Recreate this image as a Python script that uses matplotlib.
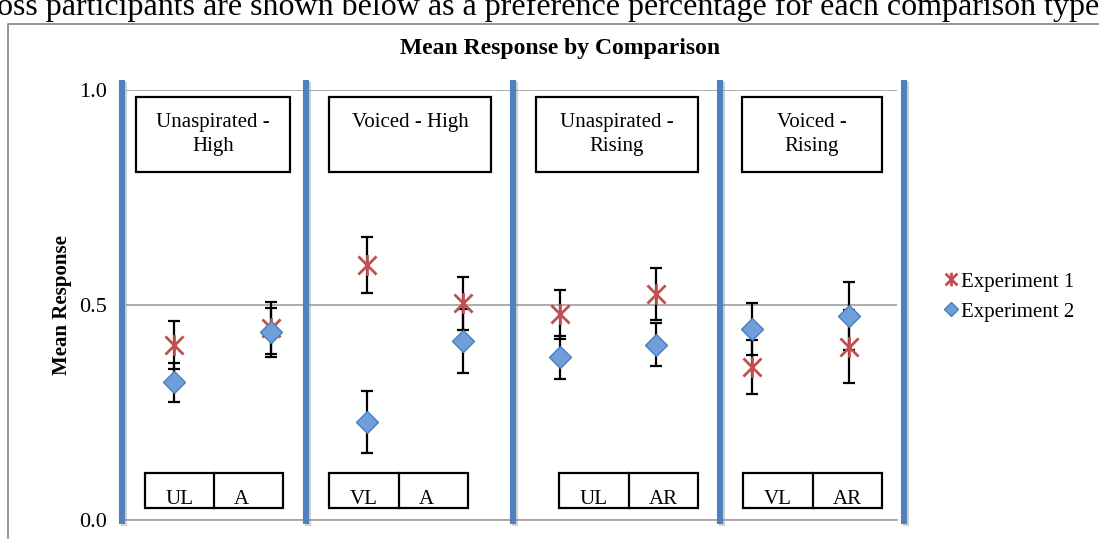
import matplotlib

matplotlib.use("Agg")

import matplotlib.pyplot as plt
import matplotlib.patheffects as pe
from matplotlib.lines import Line2D
from matplotlib.patches import Rectangle
from matplotlib.path import Path
import numpy as np

plt.rcParams["font.family"] = ["Liberation Serif", "DejaVu Serif"]

W, H = 1099, 539

# data
categories = ["UL", "A", "VL", "A", "UL", "AR", "VL", "AR"]
exp1_mean = [0.407, 0.447, 0.593, 0.504, 0.479, 0.526, 0.355, 0.403]
exp1_err = [0.055, 0.061, 0.065, 0.061, 0.057, 0.060, 0.063, 0.085]
exp2_mean = [0.320, 0.437, 0.227, 0.417, 0.378, 0.408, 0.444, 0.474]
exp2_err = [0.046, 0.057, 0.072, 0.074, 0.049, 0.050, 0.061, 0.079]
panel_titles = ["Unaspirated -\nHigh", "Voiced - High", "Unaspirated -\nRising", "Voiced -\nRising"]
yticks = [0.0, 0.5, 1.0]

# layout (pixels in the reference)
divider_px = [122, 306, 513, 720, 904]
title_boxes_px = [(136, 290), (329, 491), (536, 698), (742, 882)]
label_boxes_px = [(145, 214, 283), (329, 399, 468), (559, 629, 698), (743, 813, 882)]


def fx(x):
    return x / W


def fy(y):
    return 1 - y / H


fig = plt.figure(figsize=(W / 100, H / 100), dpi=100)
ax = fig.add_axes([fx(126), fy(520), 771 / W, 430 / H])

x = np.arange(len(categories))
ax.errorbar(x, exp1_mean, yerr=exp1_err, fmt="none", ecolor="black",
            elinewidth=1.6, capsize=4.5, capthick=1.6, zorder=2)
ax.errorbar(x, exp2_mean, yerr=exp2_err, fmt="none", ecolor="black",
            elinewidth=1.6, capsize=4.5, capthick=1.6, zorder=2)

star = Path([(-1, -1), (1, 1), (-1, 1), (1, -1), (0, -1.15), (0, 1.15)],
            [Path.MOVETO, Path.LINETO, Path.MOVETO, Path.LINETO, Path.MOVETO, Path.LINETO])
(h1,) = ax.plot(x, exp1_mean, linestyle="none", marker=star, markersize=15,
                markerfacecolor="none", markeredgecolor="#C0504D", markeredgewidth=2,
                zorder=3, label="Experiment 1")
(h2,) = ax.plot(x, exp2_mean, linestyle="none", marker="D", markersize=11.5,
                markerfacecolor="#6F9FDB", markeredgecolor="#4A7EBB", markeredgewidth=1,
                zorder=4, label="Experiment 2")

ax.set_xlim(-0.5, len(categories) - 0.5)
ax.set_ylim(0, 1)
ax.set_yticks(yticks)
ax.set_yticklabels([f"{v:.1f}" for v in yticks])
ax.set_xticks([])
ax.tick_params(axis="y", length=0, pad=14, labelsize=16)
ax.yaxis.grid(True, color="#A6A6A6", linewidth=1.3)
ax.set_axisbelow(True)
for side in ["top", "right", "left"]:
    ax.spines[side].set_visible(False)
ax.spines["bottom"].set_color("#A6A6A6")
ax.spines["bottom"].set_linewidth(1.3)

fig.text(fx(62), fy(305), "Mean Response", rotation=90, ha="center", va="center",
         fontsize=15, fontweight="bold")
fig.text(fx(560), fy(54), "Mean Response by Comparison", ha="center", va="baseline",
         fontsize=17, fontweight="bold")

ax.legend(handles=[h1, h2], loc="center left", bbox_to_anchor=(fx(926), fy(297)),
          bbox_transform=fig.transFigure, frameon=False, fontsize=15,
          markerscale=0.65, handlelength=0.6, handletextpad=0.2, labelspacing=0.5)

# blue separators
shadow = [pe.SimpleLineShadow(offset=(1.5, -1.5), shadow_color="gray", alpha=0.35), pe.Normal()]
for xp in divider_px:
    fig.add_artist(Line2D([fx(xp), fx(xp)], [fy(80), fy(524)], color="#4F81BD",
                          linewidth=4.4, solid_capstyle="butt", path_effects=shadow, zorder=5))

# panel title boxes
for (x0, x1), txt in zip(title_boxes_px, panel_titles):
    fig.add_artist(Rectangle((fx(x0), fy(172)), fx(x1 - x0), (172 - 97) / H,
                             facecolor="white", edgecolor="black", linewidth=1.6, zorder=6))
    for i, line in enumerate(txt.split("\n")):
        fig.text(fx((x0 + x1) / 2), fy(127 + 24 * i), line, ha="center", va="baseline",
                 fontsize=15, zorder=7)

# category label boxes
for (x0, xm, x1), pair in zip(label_boxes_px, zip(categories[0::2], categories[1::2])):
    fig.add_artist(Rectangle((fx(x0), fy(508)), fx(x1 - x0), (508 - 473) / H,
                             facecolor="white", edgecolor="black", linewidth=1.6, zorder=6))
    fig.add_artist(Line2D([fx(xm), fx(xm)], [fy(473), fy(508)], color="black",
                          linewidth=1.6, zorder=7))
    fig.text(fx(x0 + 21), fy(504), pair[0], ha="left", va="baseline", fontsize=15, zorder=7)
    fig.text(fx(xm + 19.5), fy(504), pair[1], ha="left", va="baseline", fontsize=15, zorder=7)

# chart frame and surrounding document text
fig.add_artist(Line2D([fx(8), fx(8), fx(W + 5)], [fy(H + 5), fy(24), fy(24)],
                      color="#8C8C8C", linewidth=1.3))
fig.text(fx(-3), fy(15), "oss participants are shown below as a preference percentage for each comparison type",
         ha="left", va="baseline", fontsize=23)

fig.savefig("out.png", dpi=100)
